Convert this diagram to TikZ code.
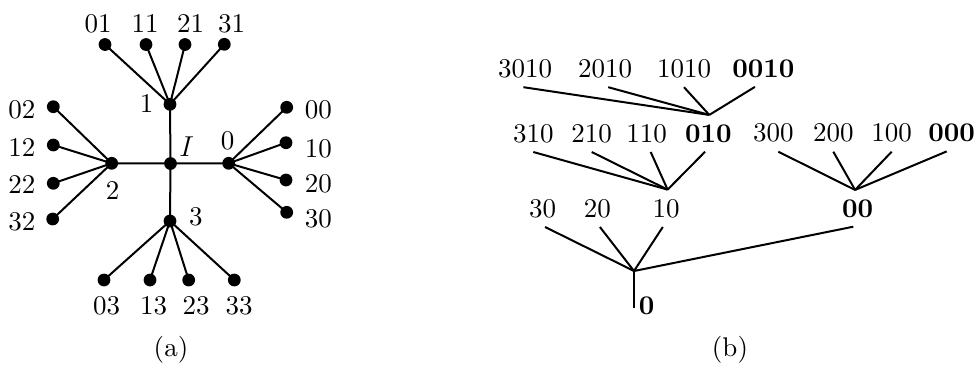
\documentclass[tikz,border=0pt]{standalone}
\usepackage{fontspec}
\setmainfont{lmroman10-regular.otf}[BoldFont=lmroman10-bold.otf,ItalicFont=lmroman10-italic.otf]
\begin{document}
\begin{tikzpicture}[x=0.5pt,y=-0.5pt,
  every node/.style={font=\fontsize{13.5}{16}\selectfont},
  dot/.style={circle,fill=black,inner sep=0pt,minimum size=6.4pt},
  lab/.style={inner sep=0pt},
  tlab/.style={inner xsep=0pt,inner ysep=4.5pt},
  edge/.style={line width=1pt},
  bf/.style={font=\fontsize{13.5}{16}\selectfont\bfseries}]
\useasboundingbox (0,0) rectangle (976,366);

% ---------- (a) star tree ----------
\node[dot] (I)  at (170.5,163.5) {};
\node[dot] (n1) at (170,104.3) {};
\node[dot] (n0) at (228.7,163.3) {};
\node[dot] (n2) at (111.7,163.3) {};
\node[dot] (n3) at (170,221) {};
% leaves
\node[dot] (d01) at (105,44.5) {};
\node[dot] (d11) at (146,44.5) {};
\node[dot] (d21) at (185,44.5) {};
\node[dot] (d31) at (224.3,44.3) {};
\node[dot] (d00) at (286.7,107.3) {};
\node[dot] (d10) at (286,142.7) {};
\node[dot] (d20) at (286,180) {};
\node[dot] (d30) at (286.7,212.3) {};
\node[dot] (d02) at (53.3,106.7) {};
\node[dot] (d12) at (53.3,145) {};
\node[dot] (d22) at (53.3,183.3) {};
\node[dot] (d32) at (52.7,219) {};
\node[dot] (d03) at (104,280) {};
\node[dot] (d13) at (150,280) {};
\node[dot] (d23) at (188.7,280) {};
\node[dot] (d33) at (234.3,280) {};

\foreach \c/\p in {n1/I,n0/I,n2/I,n3/I,
  d01/n1,d11/n1,d21/n1,d31/n1,
  d00/n0,d10/n0,d20/n0,d30/n0,
  d02/n2,d12/n2,d22/n2,d32/n2,
  d03/n3,d13/n3,d23/n3,d33/n3}
  \draw[edge] (\c.center) -- (\p.center);

% leaf labels
\node[lab] (l01) at (98,23.3) {01};
\node[lab] (l11) at (145,23.3) {11};
\node[lab] (l21) at (190.5,23.3) {21};
\node[lab] (l31) at (231.5,23.3) {31};
\node[lab] (l00) at (318.3,110) {00};
\node[lab] (l10) at (318.3,148.3) {10};
\node[lab] (l20) at (318.3,183.3) {20};
\node[lab] (l30) at (318.3,219) {30};
\node[lab] (l02) at (21.8,110) {02};
\node[lab] (l12) at (21.8,148) {12};
\node[lab] (l22) at (21.8,185) {22};
\node[lab] (l32) at (21.8,222) {32};
\node[lab] (l03) at (106.7,305.8) {03};
\node[lab] (l13) at (153.7,305.8) {13};
\node[lab] (l23) at (196,305.8) {23};
\node[lab] (l33) at (239,305.8) {33};
% inner labels
\node[lab] (ln1) at (146.7,103.3) {1};
\node[lab] (lI)  at (186.7,146.7) {$I$};
\node[lab] (ln0) at (227.5,141) {0};
\node[lab] (ln2) at (112.5,190) {2};
\node[lab] (ln3) at (195.8,216.7) {3};
\node[lab] (capa) at (171,350) {(a)};

% ---------- (b) label tree ----------
\node[tlab] (t3010) at (525,68.5) {3010};
\node[tlab] (t2010) at (605,68.5) {2010};
\node[tlab] (t1010) at (684,68.5) {1010};
\node[tlab,bf] (t0010) at (763.3,68.5) {0010};
\node[tlab] (t310) at (533.3,133.3) {310};
\node[tlab] (t210) at (591.7,133.3) {210};
\node[tlab] (t110) at (646.7,133.3) {110};
\node[tlab,bf] (t010) at (708.3,133.3) {010};
\node[tlab] (t300) at (773.3,133) {300};
\node[tlab] (t200) at (833.3,133) {200};
\node[tlab] (t100) at (891.7,133) {100};
\node[tlab,bf] (t000) at (951.7,133) {000};
\node[tlab] (t30) at (542.7,208.3) {30};
\node[tlab] (t20) at (597.3,208.3) {20};
\node[tlab] (t10) at (666,208.3) {10};
\node[tlab,bf] (t00) at (857.7,208.3) {00};
\coordinate (root) at (634,271);
\coordinate (rootend) at (634,308.3);
\node[lab,bf] (t0) at (646.7,306) {0};
\node[lab] (capb) at (730,350) {(b)};

% children of 010
\draw[edge] ([xshift=-0.8pt]t3010.south) -- ([xshift=0.5pt]t010.north);
\draw[edge] ([xshift=1.6pt]t2010.south) -- ([xshift=0.5pt]t010.north);
\draw[edge] (t1010.south) -- ([xshift=0.5pt]t010.north);
\draw[edge] ([xshift=-4.2pt]t0010.south) -- ([xshift=0.5pt]t010.north);
% children of 10
\draw[edge] (t310.south) -- ([xshift=0.8pt]t10.north);
\draw[edge] (t210.south) -- ([xshift=0.8pt]t10.north);
\draw[edge] ([xshift=2pt]t110.south) -- ([xshift=0.8pt]t10.north);
\draw[edge] ([xshift=-1.6pt]t010.south) -- ([xshift=0.8pt]t10.north);
% children of 00
\draw[edge] ([xshift=2.5pt]t300.south) -- ([xshift=-1.3pt]t00.north);
\draw[edge] (t200.south) -- ([xshift=-1.3pt]t00.north);
\draw[edge] (t100.south) -- ([xshift=-1.3pt]t00.north);
\draw[edge] ([xshift=-2.5pt]t000.south) -- ([xshift=-1.3pt]t00.north);
% children of the root
\draw[edge] ([xshift=1.2pt]t30.south) -- (root);
\draw[edge] ([xshift=1.3pt]t20.south) -- (root);
\draw[edge] ([xshift=-1.6pt]t10.south) -- (root);
\draw[edge] ([xshift=-2.2pt]t00.south) -- (root);
\draw[edge] (root) -- (rootend);
\end{tikzpicture}
\end{document}
